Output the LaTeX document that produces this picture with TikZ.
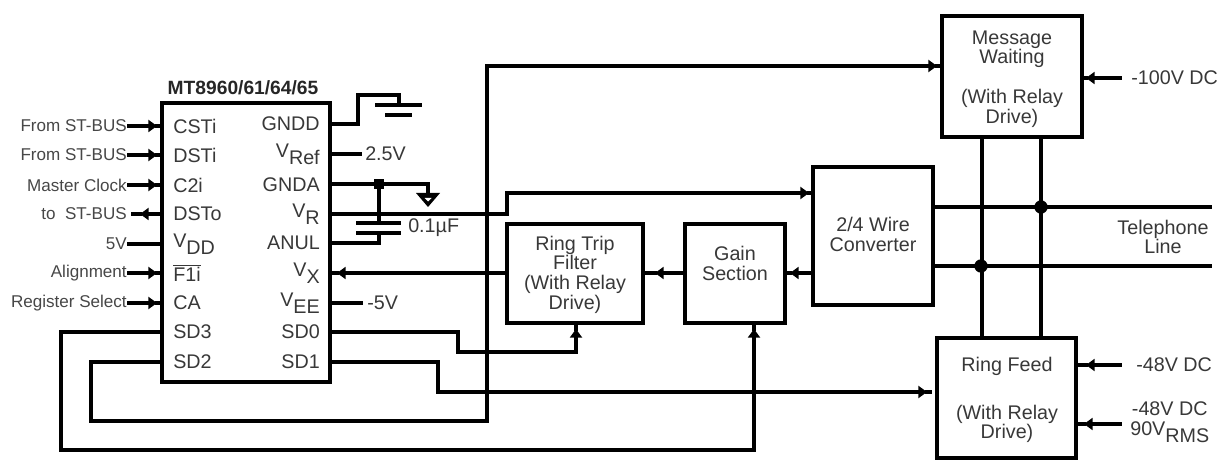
\documentclass[tikz,border=0pt]{standalone}
\usepackage{fontspec}
\setmainfont{Liberation Sans}
\usetikzlibrary{arrows.meta}
\newcommand{\lowsub}[1]{\raisebox{-5pt}{#1}}
\tikzset{
  wire/.style={line width=2.4pt,line join=miter,line cap=rect},
  tipped/.style={wire,-{Triangle[length=6.5pt,width=9pt]}},
  blockbox/.style={draw,line width=3pt,inner sep=0pt},
  blocktext/.style={align=center,inner sep=0pt,text=black!78,font=\fontsize{14.8}{14.7}\selectfont},
  pin/.style={inner sep=0pt,text=black!78,font=\fontsize{14.8}{16}\selectfont},
  side/.style={inner sep=0pt,text=black!72,font=\fontsize{12.8}{14}\selectfont},
  dot/.style={circle,fill=black,inner sep=0pt,minimum size=10pt},
}
\begin{document}
\begin{tikzpicture}[x=0.75pt,y=-0.75pt]
\useasboundingbox (0,0) rectangle (1223,466);
% blocks
\node[blockbox,minimum width=126pt,minimum height=209pt] (chip) at (246,242.5) {};
\node[blockbox,minimum width=102pt,minimum height=74pt] (trip) at (575,273.5) {};
\node[blockbox,minimum width=75pt,minimum height=74pt] (gain) at (735,273.5) {};
\node[blockbox,minimum width=90pt,minimum height=103.5pt] (conv) at (873,236) {};
\node[blockbox,minimum width=105pt,minimum height=91pt] (msg) at (1012,76.5) {};
\node[blockbox,minimum width=104pt,minimum height=90pt] (feed) at (1006.5,398) {};
\node[blocktext] (triptext) at (575,274.5) {Ring Trip\\Filter\\(With Relay\\Drive)};
\node[blocktext] (gaintext) at (735,263.5) {Gain\\Section};
\node[blocktext] (convtext) at (873,234.5) {2/4 Wire\\Converter};
\node[blocktext] (msgtext) at (1012,79) {Message\\Waiting\\[15pt](With Relay\\Drive)};
\node[blocktext] (feedtext) at (1007,400) {Ring Feed\\[21pt](With Relay\\Drive)};
\node[inner sep=0pt,font=\bfseries\fontsize{14.4}{16}\selectfont,text=black!85] (title) at (243,88) {MT8960/61/64/65};
% left pin names
\node[pin,anchor=west] (csti) at (173,126) {CSTi};
\node[pin,anchor=west] (dsti) at (173,155) {DSTi};
\node[pin,anchor=west] (c2i) at (173,185) {C2i};
\node[pin,anchor=west] (dsto) at (173,214) {DSTo};
\node[pin,anchor=west] (vdd) at (173,244) {V\lowsub{DD}};
\node[pin,anchor=west] (fti) at (173,273) {$\overline{\hbox{F1i}}$};
\node[pin,anchor=west] (ca) at (173,303) {CA};
\node[pin,anchor=west] (sd3) at (173,332) {SD3};
\node[pin,anchor=west] (sd2) at (173,362) {SD2};
% right pin names
\node[pin,anchor=east] (gndd) at (320,124) {GNDD};
\node[pin,anchor=east] (vref) at (320,154) {V\lowsub{Ref}};
\node[pin,anchor=east] (gnda) at (320,185) {GNDA};
\node[pin,anchor=east] (vr) at (320,214) {V\lowsub{R}};
\node[pin,anchor=east] (anul) at (320,243) {ANUL};
\node[pin,anchor=east] (vx) at (320,273) {V\lowsub{X}};
\node[pin,anchor=east] (vee) at (320,303) {V\lowsub{EE}};
\node[pin,anchor=east] (sd0) at (320,332) {SD0};
\node[pin,anchor=east] (sd1) at (320,362) {SD1};
% left labels
\node[side,anchor=east] (l1) at (127,126) {From ST-BUS};
\node[side,anchor=east] (l2) at (127,155) {From ST-BUS};
\node[side,anchor=east] (l3) at (127,185) {Master Clock};
\node[side,anchor=east] (l4) at (127,214) {to\ \ ST-BUS};
\node[side,anchor=east] (l5) at (127,244) {5V};
\node[side,anchor=east] (l6) at (127,273) {Alignment};
\node[side,anchor=east] (l7) at (127,303) {Register Select};
% other labels
\node[pin,anchor=west] (v25) at (365,154) {2.5V};
\node[pin,anchor=west] (v5) at (367,303) {-5V};
\node[pin,anchor=west] (cap) at (408,228) {0.1µF};
\node[pin,anchor=west] (v100) at (1131,78) {-100V DC};
\node[pin,anchor=west] (v48a) at (1136,365) {-48V DC};
\node[pin,align=center,anchor=west,font=\fontsize{14.8}{15.5}\selectfont] (v48b) at (1130,422) {-48V DC\\90V\lowsub{RMS}};
\node[pin,align=center,font=\fontsize{14.8}{14.7}\selectfont] (tel) at (1163,237) {Telephone\\Line};
% left wires with tips
\foreach \lab/\ty in {l1/126,l2/155,l3/185,l6/273,l7/303}{
  \coordinate (t) at (157,\ty);
  \draw[tipped] ([xshift=1.5pt]\lab.east) -- (t);
  \draw[wire] (t) -- (\lab.east -| chip.west);
}
\coordinate (t4) at (140,214);
\draw[tipped] (l4.east -| chip.west) -- (t4);
\draw[wire] (t4) -- ([xshift=4.5pt]l4.east);
\draw[wire] ([xshift=1.5pt]l5.east) -- (l5.east -| chip.west);
% GNDD and its ground
\coordinate (g1) at (358,124);
\coordinate (g2) at (358,95);
\coordinate (g3) at (399,95);
\coordinate (g4) at (399,105);
\coordinate (g5) at (377,105);
\coordinate (g6) at (420,105);
\coordinate (g7) at (387,115);
\coordinate (g8) at (410,115);
\draw[wire] (gndd.east -| chip.east) -- (g1) -- (g2) -- (g3) -- (g4);
\draw[wire] (g5) -- (g6);
\draw[wire] (g7) -- (g8);
% VRef, VEE
\draw[wire] (vref.east -| chip.east) -- (360,154) coordinate (vrefend);
\draw[wire,line width=3pt] (vee.east -| chip.east) -- (361,303) coordinate (veeend);
% GNDA with capacitor
\coordinate (a1) at (379,184);
\coordinate (a2) at (428,184);
\coordinate (a3) at (428,194);
\coordinate (a4) at (379,223);
\coordinate (a5) at (358,223);
\coordinate (a6) at (399,223);
\coordinate (a7) at (358,233);
\coordinate (a8) at (399,233);
\coordinate (a9) at (379,233);
\coordinate (a10) at (379,243);
\draw[wire] (chip.east |- a1) -- (a2) -- (a3);
\fill[black] (416,193) -- (440,193) -- (428,207) -- cycle;
\fill[white] (424.5,198) -- (431.5,198) -- (428,201.5) -- cycle;
\node[minimum size=8pt,inner sep=0pt,fill=black] (adot) at (a1) {};
\draw[wire] (adot) -- (a4);
\draw[wire] (a5) -- (a6);
\draw[wire] (a7) -- (a8);
\draw[wire] (a9) -- (a10) -- (chip.east |- a10);
% VR to converter
\coordinate (r1) at (507,214);
\coordinate (r2) at (507,193);
\coordinate (r3) at (809,193);
\draw[wire] (chip.east |- r1) -- (r1) -- (r2);
\draw[tipped] (r2) -- (r3);
\draw[wire] (r3) -- (conv.west |- r3);
% VX
\coordinate (x1) at (337,273);
\draw[tipped] (trip.west |- x1) -- (x1);
\draw[wire] (x1) -- (chip.east |- x1);
% gain to trip, converter to gain
\coordinate (x2) at (655,273);
\draw[tipped] (gain.west |- x2) -- (x2);
\draw[wire] (x2) -- (trip.east |- x2);
\coordinate (x3) at (790,273);
\draw[tipped] (conv.west |- x3) -- (x3);
\draw[wire] (x3) -- (gain.east |- x3);
% SD0 to trip
\coordinate (s1) at (458,332);
\coordinate (s2) at (458,352);
\coordinate (s3) at (576,352);
\coordinate (s4) at (576,329);
\draw[wire] (chip.east |- s1) -- (s1) -- (s2) -- (s3);
\draw[tipped] (s3) -- (s4);
\draw[wire] (s4) -- (s4 |- trip.south);
% SD1 to feed
\coordinate (u1) at (438,362);
\coordinate (u2) at (438,392);
\coordinate (u3) at (927,392);
\coordinate (u4) at (930,392);
\draw[wire] (chip.east |- u1) -- (u1) -- (u2);
\draw[tipped] (u2) -- (u3);
\draw[wire] (u3) -- (u4);
% SD2 to message waiting
\coordinate (w1) at (91,362);
\coordinate (w2) at (91,421);
\coordinate (w3) at (487,421);
\coordinate (w4) at (487,66);
\coordinate (w5) at (937,66);
\draw[wire] (chip.west |- w1) -- (w1) -- (w2) -- (w3) -- (w4);
\draw[tipped] (w4) -- (w5);
\draw[wire] (w5) -- (msg.west |- w5);
% SD3 to gain
\coordinate (z1) at (61,332);
\coordinate (z2) at (61,450);
\coordinate (z3) at (754,450);
\coordinate (z4) at (754,329);
\draw[wire] (chip.west |- z1) -- (z1) -- (z2) -- (z3);
\draw[tipped] (z3) -- (z4);
\draw[wire] (z4) -- (z4 |- gain.south);
% supplies
\coordinate (m1) at (1120,78);
\coordinate (m2) at (1086,78);
\draw[tipped] (m1) -- (m2);
\draw[wire] (m2) -- (msg.east |- m2);
\coordinate (f1) at (1120,365);
\coordinate (f2) at (1086,365);
\draw[tipped] (f1) -- (f2);
\draw[wire] (f2) -- (feed.east |- f2);
\coordinate (f3) at (1120,424);
\coordinate (f4) at (1084,424);
\draw[tipped] (f3) -- (f4);
\draw[wire] (f4) -- (feed.east |- f4);
% telephone lines and verticals
\coordinate (e1) at (1210,207);
\coordinate (e2) at (1210,266);
\coordinate (v1) at (982,207);
\coordinate (v2) at (1041,207);
\draw[wire] (conv.east |- e1) -- (e1);
\draw[wire] (conv.east |- e2) -- (e2);
\draw[wire] (v1 |- msg.south) -- (v1 |- feed.north);
\draw[wire] (v2 |- msg.south) -- (v2 |- feed.north);
\node[dot] (d1) at (1041,207) {};
\node[dot] (d2) at (981,266) {};
\end{tikzpicture}
\end{document}
